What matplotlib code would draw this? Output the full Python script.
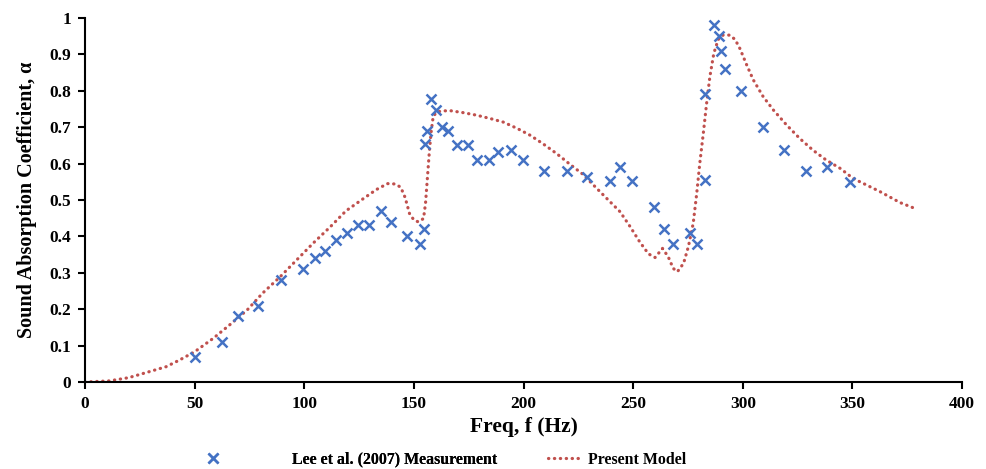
import matplotlib.pyplot as plt

# Lee et al. (2007) measurement points
meas_freq = [50, 62.5, 70, 79, 89.5, 99.5, 105, 109.5, 114.5, 119.5, 124.5, 129.5,
             135, 139.6, 146.7, 152.6, 154.4, 154.9, 155.8, 158, 160, 162.7, 165.4,
             169.7, 174.5, 178.9, 184.2, 188.5, 194.4, 199.9, 209.4, 219.7, 229,
             239.5, 244, 249.5, 259.5, 264, 268, 276, 279, 283, 283, 287, 289,
             290, 292, 299, 309, 319, 329, 338.5, 349]
meas_alpha = [0.07, 0.11, 0.18, 0.21, 0.28, 0.31, 0.34, 0.36, 0.39, 0.41, 0.43, 0.43,
              0.47, 0.44, 0.40, 0.38, 0.42, 0.654, 0.69, 0.778, 0.748, 0.70, 0.69,
              0.652, 0.652, 0.61, 0.609, 0.631, 0.638, 0.61, 0.58, 0.58, 0.562,
              0.553, 0.59, 0.553, 0.48, 0.42, 0.38, 0.41, 0.38, 0.79, 0.555, 0.98, 0.95,
              0.91, 0.86, 0.80, 0.70, 0.638, 0.58, 0.59, 0.55]

# present model curve
model_freq = [0, 11, 20, 28, 37, 43, 50, 58.5, 66, 74, 81, 89, 96.5, 104, 112, 119,
              127, 133, 138, 141.5, 144, 146, 148, 150, 152, 154.4, 155.3, 156.1, 157,
              157.8, 158.8, 160.4, 163.4, 167, 172.5, 178.6, 184.7, 190.8, 197, 203,
              209, 215, 221, 227, 233.4, 239.5, 244, 248.5, 253, 257, 260, 263.4, 266,
              268.3, 270.2, 273, 275.2, 277.4, 279, 280.4, 282, 283.5, 285, 286.8,
              288.8, 291, 294, 296.5, 298.7, 301.8, 304.8, 309.3, 314, 320, 326, 332,
              338, 344.4, 350.4, 356.5, 362.6, 371.7, 378]
model_alpha = [0, 0.003, 0.012, 0.026, 0.042, 0.06, 0.083, 0.12, 0.157, 0.198, 0.244,
               0.289, 0.335, 0.381, 0.427, 0.47, 0.504, 0.529, 0.545, 0.544, 0.535,
               0.507, 0.463, 0.445, 0.44, 0.449, 0.49, 0.555, 0.628, 0.683, 0.729,
               0.742, 0.745, 0.745, 0.74, 0.733, 0.724, 0.714, 0.697, 0.678, 0.654,
               0.628, 0.599, 0.571, 0.532, 0.495, 0.468, 0.428, 0.385, 0.352, 0.342,
               0.367, 0.344, 0.312, 0.303, 0.326, 0.372, 0.436, 0.518, 0.601, 0.683,
               0.765, 0.839, 0.903, 0.941, 0.953, 0.953, 0.941, 0.916, 0.871, 0.83,
               0.784, 0.747, 0.706, 0.669, 0.637, 0.61, 0.587, 0.559, 0.541, 0.523,
               0.493, 0.478]

plt.rcParams['font.family'] = ['Liberation Serif', 'DejaVu Serif']
plt.rcParams['font.weight'] = 'bold'

fig = plt.figure(figsize=(9.87, 4.69), dpi=100)
ax = fig.add_axes([0.0861, 0.1855, 0.8886, 0.7761])

meas, = ax.plot(meas_freq, meas_alpha, linestyle='none', marker='x', color='#4472C4',
                markersize=7, markeredgewidth=1.8, label='Lee et al. (2007) Measurement',
                zorder=3)
model, = ax.plot(model_freq, model_alpha, color='#C0504D', linewidth=2.3,
                 linestyle=(0, (0.1, 1.75)), dash_capstyle='round', label='Present Model',
                 zorder=2)

ax.set_xlim(0, 400)
ax.set_ylim(0, 1)
ax.set_xticks(range(0, 401, 50))
ax.set_yticks([i / 10 for i in range(11)])
ax.set_yticklabels(['0', '0.1', '0.2', '0.3', '0.4', '0.5', '0.6', '0.7', '0.8', '0.9', '1'])

for s in ['top', 'right']:
    ax.spines[s].set_visible(False)
for s in ['left', 'bottom']:
    ax.spines[s].set_linewidth(1.5)
ax.tick_params(direction='out', length=5, width=1.5, labelsize=12.5, pad=5)
for lab in ax.get_xticklabels() + ax.get_yticklabels():
    lab.set_fontweight('bold')

ax.set_xlabel('Freq, f (Hz)', fontsize=15.5, fontweight='bold', labelpad=4)
ax.set_ylabel('Sound Absorption Coefficient, α', fontsize=14.5, fontweight='bold', labelpad=9)

# Excel-like legend: two entries placed separately along the bottom
leg_kw = dict(loc='center left', frameon=False, borderpad=0, borderaxespad=0,
              prop={'weight': 'bold', 'size': 11.4})
leg1 = fig.legend(handles=[meas], bbox_to_anchor=(197 / 987, 0.02),
                  handlelength=2.0, handletextpad=4.0, **leg_kw)
fig.add_artist(leg1)
fig.legend(handles=[model], bbox_to_anchor=(548 / 987, 0.02),
           handlelength=1.9, handletextpad=0.6, **leg_kw)

fig.savefig('out.png', dpi=100)
